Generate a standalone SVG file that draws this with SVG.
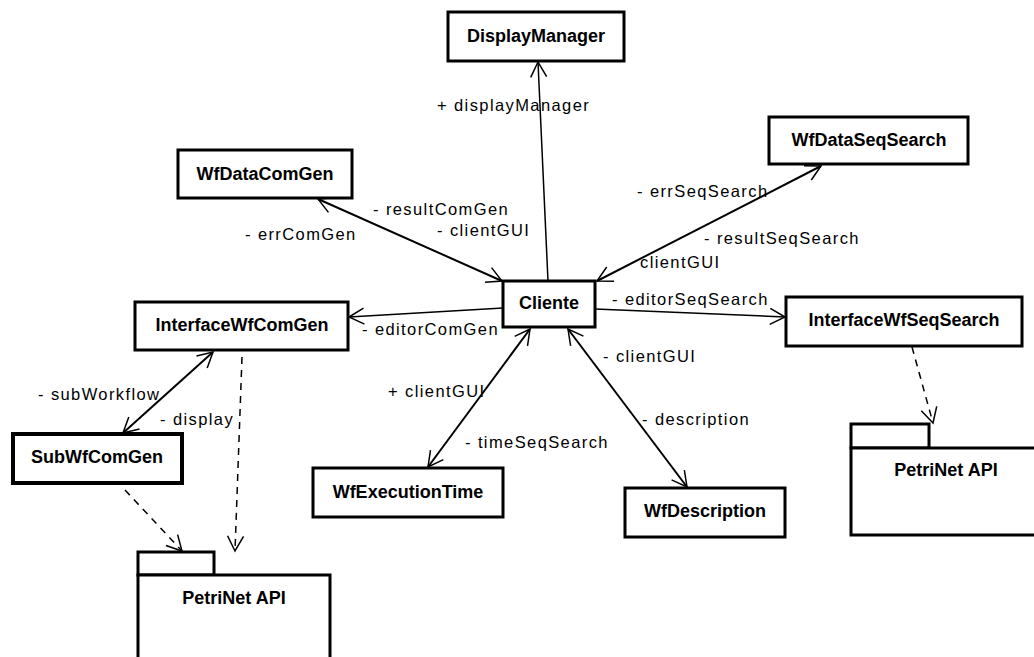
<svg xmlns="http://www.w3.org/2000/svg" width="1034" height="657" viewBox="0 0 1034 657">
<style>
.box{fill:#fff;stroke:#000;stroke-width:3}
.thick{stroke-width:4}
.nt{font-family:"Liberation Sans",Arial,sans-serif;font-weight:bold;font-size:18px;text-anchor:middle;fill:#000}
.lb{font-family:"Liberation Sans",Arial,sans-serif;font-size:16.5px;letter-spacing:1.4px;fill:#000}
.as{stroke:#000;stroke-width:2;fill:none}
.thin{stroke-width:1.5}
.dash{stroke:#000;stroke-width:1.5;stroke-dasharray:7 6;fill:none}
</style>
<defs>
<marker id="v" markerUnits="userSpaceOnUse" markerWidth="20" markerHeight="20" viewBox="-16 -10 18 20" refX="0" refY="0" orient="auto-start-reverse" overflow="visible">
<path d="M-15,-8 L0,0 L-15,8" fill="none" stroke="#000" stroke-width="1.5"/>
</marker>
</defs>
<g id="connectors">
<line class="as thin" x1="548" y1="281" x2="538" y2="62" marker-end="url(#v)"/>
<line class="as" x1="318" y1="199" x2="502" y2="281" marker-start="url(#v)" marker-end="url(#v)"/>
<line class="as" x1="821" y1="166" x2="597" y2="281" marker-start="url(#v)" marker-end="url(#v)"/>
<line class="as thin" x1="503" y1="308" x2="349" y2="317" marker-end="url(#v)"/>
<line class="as thin" x1="595" y1="309" x2="785" y2="317" marker-end="url(#v)"/>
<line class="as" x1="530" y1="329" x2="428" y2="467" marker-start="url(#v)" marker-end="url(#v)"/>
<line class="as" x1="568" y1="329" x2="687" y2="487" marker-start="url(#v)" marker-end="url(#v)"/>
<line class="as" x1="213" y1="352" x2="123" y2="433" marker-start="url(#v)" marker-end="url(#v)"/>
<line class="dash" x1="242" y1="357" x2="235" y2="551" marker-end="url(#v)"/>
<line class="dash" x1="125" y1="490" x2="182" y2="551" marker-end="url(#v)"/>
<line class="dash" x1="912" y1="347" x2="933" y2="423" marker-end="url(#v)"/>
</g>
<g id="labels">
<text class="lb" x="437" y="111">+ displayManager</text>
<text class="lb" x="373" y="215">- resultComGen</text>
<text class="lb" x="437" y="236">- clientGUI</text>
<text class="lb" x="245" y="240">- errComGen</text>
<text class="lb" x="637" y="197">- errSeqSearch</text>
<text class="lb" x="704" y="244">- resultSeqSearch</text>
<text class="lb" x="640" y="268">clientGUI</text>
<text class="lb" x="612" y="305">- editorSeqSearch</text>
<text class="lb" x="362" y="335">- editorComGen</text>
<text class="lb" x="603" y="362">- clientGUI</text>
<text class="lb" x="388" y="397">+ clientGUI</text>
<text class="lb" x="642" y="425">- description</text>
<text class="lb" x="465" y="448">- timeSeqSearch</text>
<text class="lb" x="38" y="400">- subWorkflow</text>
<text class="lb" x="160" y="425">- display</text>
</g>
<g id="DisplayManager"><rect class="box" x="448" y="12" width="176" height="49"/><text class="nt" x="536" y="42">DisplayManager</text></g>
<g id="WfDataComGen"><rect class="box" x="178" y="150" width="174" height="48"/><text class="nt" x="265" y="180">WfDataComGen</text></g>
<g id="WfDataSeqSearch"><rect class="box" x="769" y="117" width="199" height="47"/><text class="nt" x="869" y="146">WfDataSeqSearch</text></g>
<g id="Cliente"><rect class="box" x="503" y="281" width="92" height="46"/><text class="nt" x="549" y="309">Cliente</text></g>
<g id="InterfaceWfComGen"><rect class="box" x="135" y="302" width="213" height="48"/><text class="nt" x="242" y="331">InterfaceWfComGen</text></g>
<g id="InterfaceWfSeqSearch"><rect class="box" x="786" y="297" width="236" height="49"/><text class="nt" x="904" y="326">InterfaceWfSeqSearch</text></g>
<g id="SubWfComGen"><rect class="box thick" x="13" y="434" width="169" height="49"/><text class="nt" x="97" y="463">SubWfComGen</text></g>
<g id="WfExecutionTime"><rect class="box" x="313" y="468" width="190" height="49"/><text class="nt" x="408" y="498">WfExecutionTime</text></g>
<g id="WfDescription"><rect class="box" x="625" y="488" width="160" height="49"/><text class="nt" x="705" y="517">WfDescription</text></g>
<g id="PetriNetAPI_left"><rect class="box" x="138" y="552" width="76" height="23"/><rect class="box" x="138" y="575" width="192" height="100"/><text class="nt" x="234" y="604">PetriNet API</text></g>
<g id="PetriNetAPI_right"><rect class="box" x="851" y="424" width="78" height="24"/><rect class="box" x="851" y="448" width="200" height="87"/><text class="nt" x="946" y="476">PetriNet API</text></g>
</svg>
